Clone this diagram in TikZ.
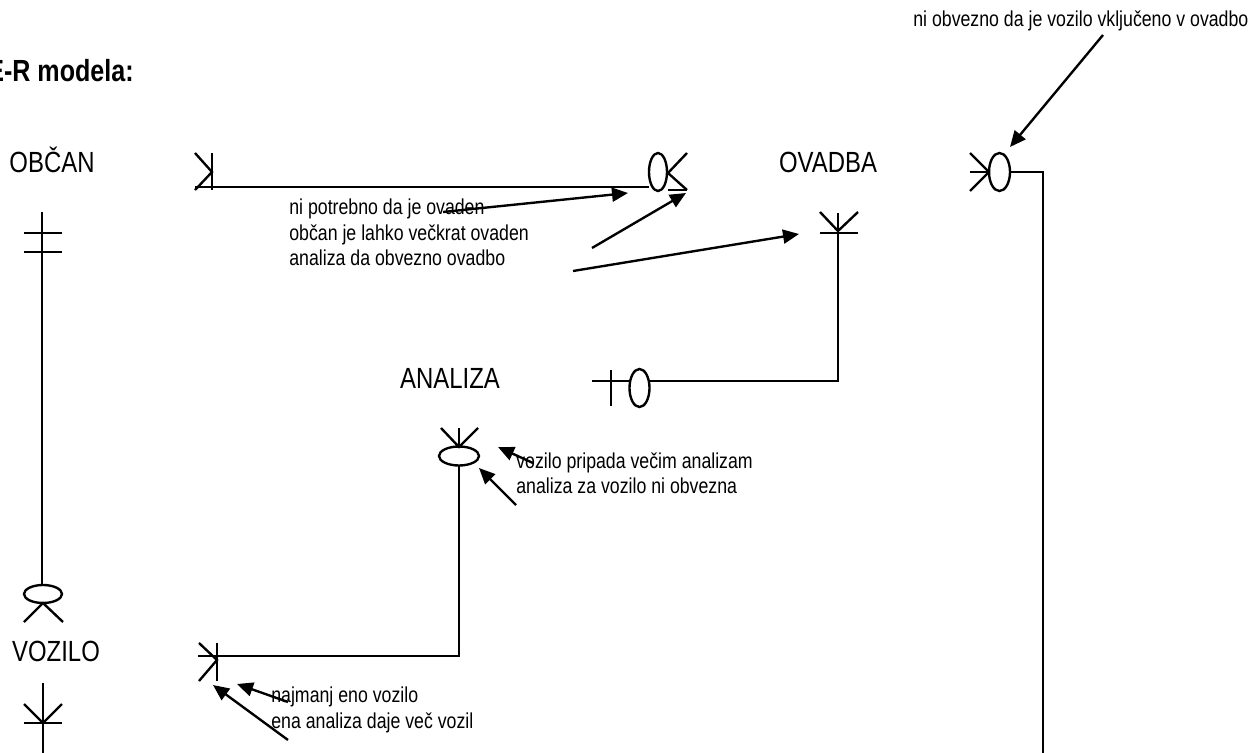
\documentclass[tikz,border=0pt]{standalone}
\usepackage{fontspec}
\setmainfont{Liberation Sans}[FakeStretch=0.82]
\usetikzlibrary{arrows.meta, positioning}
\tikzset{%
>={Triangle[width=2.8mm,length=3.2mm]},
  % Specifications for style of nodes and lines:
            entity/.style = {inner sep=0pt, anchor=base,
                            font=\fontsize{16.6}{19}\selectfont},
            note/.style = {inner sep=0pt, anchor=base west,
                            font=\fontsize{12.3}{14}\selectfont},
            rel/.style = {line width=1.35pt},
            pointer/.style = {line width=1.35pt, ->}
}
\begin{document}
\begin{tikzpicture}[x=0.2mm, y=-0.2mm]
                        \useasboundingbox (0,0) rectangle (1248,753);
                        \node[inner sep=0pt, anchor=base east, font=\fontsize{17.4}{20}\selectfont\bfseries] (title) at (134,82) {E-R modela:};
                        % entities
                        \node[entity] (obcan) at (52,173) {OBČAN};
                        \node[entity] (ovadba) at (828,173) {OVADBA};
                        \node[entity] (analiza) at (450,388) {ANALIZA};
                        \node[entity] (vozilo) at (56,661) {VOZILO};
                        % notes
                        \node[note] (n1) at (913,27) {ni obvezno da je vozilo vključeno v ovadbo};
                        \node[note] (n2a) at (289,215) {ni potrebno da je ovaden};
                        \node[note] (n2b) at (289,240) {občan je lahko večkrat ovaden};
                        \node[note] (n2c) at (289,265) {analiza da obvezno ovadbo};
                        \node[note] (n3a) at (516,468) {vozilo pripada večim analizam};
                        \node[note] (n3b) at (516,493) {analiza za vozilo ni obvezna};
                        \node[note] (n4a) at (271,702) {najmanj eno vozilo};
                        \node[note] (n4b) at (271,728) {ena analiza daje več vozil};
                        % line ends
                        \coordinate (ob-e) at (195,187);
                        \coordinate (ov-w) at (649,187);
                        \coordinate (ob-s) at (42,212);
                        \coordinate (vo-n) at (42,585);
                        \coordinate (vo-e) at (198,656);
                        \coordinate (an-s) at (459,466);
                        \coordinate (an-e) at (649,381);
                        \coordinate (ov-s) at (838,213);
                        \coordinate (ov-e) at (1010,172);
                        \coordinate (vo-s) at (43,683);
                        % OBCAN - OVADBA
                        \draw[rel] (ob-e) -- (ov-w);
                        \draw[rel] (212,153) -- (212,190);
                        \draw[rel] (195,153) -- (212,172) -- (195,190);
                        \draw[rel] (658,172) ellipse [x radius=1.8mm, y radius=3.8mm];
                        \draw[rel] (687,153) -- (668,173) -- (687,190);
                        \draw[rel] (668,190) -- (687,190);
                        % OBCAN - VOZILO
                        \draw[rel] (ob-s) -- (vo-n);
                        \draw[rel] (24,233) -- (62,233);
                        \draw[rel] (24,252) -- (62,252);
                        \draw[rel] (43,594) ellipse [x radius=3.8mm, y radius=1.8mm];
                        \draw[rel] (24,622) -- (43,603) -- (63,622);
                        % VOZILO - ANALIZA
                        \draw[rel] (vo-e) -| (an-s);
                        \draw[rel] (217,643) -- (217,681);
                        \draw[rel] (199,643) -- (217,660) -- (199,681);
                        \draw[rel] (459,456) ellipse [x radius=4mm, y radius=1.9mm];
                        \draw[rel] (441,428) -- (459,447) -- (478,428);
                        \draw[rel] (459,428) -- (459,447);
                        % ANALIZA - OVADBA
                        \draw[rel] (592,381) -- (630,381);
                        \draw[rel] (611,370) -- (611,406);
                        \draw[rel] (639.5,388) ellipse [x radius=2mm, y radius=3.8mm];
                        \draw[rel] (an-e) -| (ov-s);
                        \draw[rel] (820,212) -- (838,231) -- (858,212);
                        \draw[rel] (820,233) -- (858,233);
                        % OVADBA - VOZILO
                        \draw[rel] (970,153) -- (989,172) -- (970,191);
                        \draw[rel] (970,172) -- (989,172);
                        \draw[rel] (999.5,172) ellipse [x radius=2.1mm, y radius=3.8mm];
                        \draw[rel] (ov-e) -- (1043,172) -- (1043,753);
                        \draw[rel] (vo-s) -- (43,753);
                        \draw[rel] (24,704) -- (43,723) -- (62,704);
                        \draw[rel] (24,723) -- (62,723);
                        % pointers
                        \draw[pointer] (1103,35) -- (1010,147);
                        \draw[pointer] (443,212) -- (628,193);
                        \draw[pointer] (592,248) -- (686,193);
                        \draw[pointer] (573,271) -- (799,234);
                        \draw[pointer] (533,463) -- (498,447);
                        \draw[pointer] (516,505) -- (479,468);
                        \draw[pointer] (288,702) -- (237,684);
                        \draw[pointer] (288,740) -- (213,685);
                    \end{tikzpicture}
\end{document}
